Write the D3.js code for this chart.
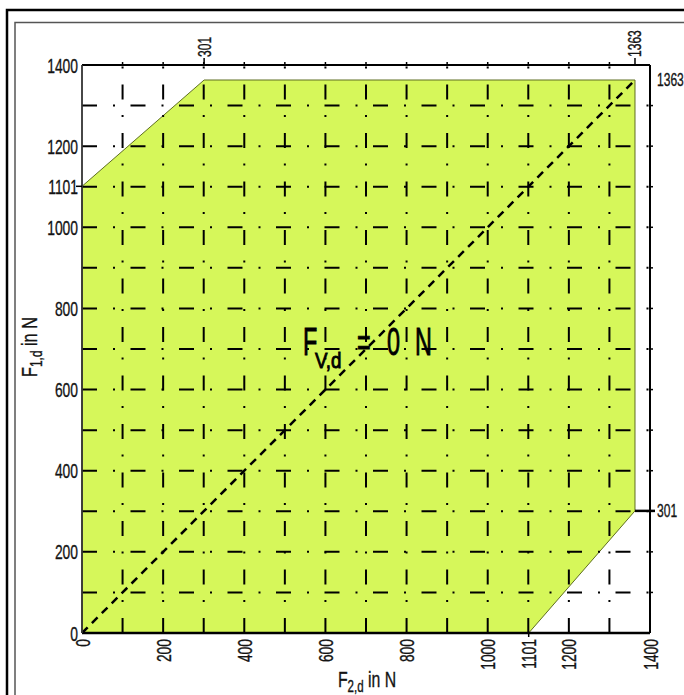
<!DOCTYPE html>
<html><head><meta charset="utf-8">
<script src="https://cdn.jsdelivr.net/npm/d3@7"></script>
<style>
body{margin:0;background:#fff;}
svg{display:block;}
text{font-family:"Liberation Sans",Arial,sans-serif;fill:#141414;stroke:#141414;stroke-width:0.35px;white-space:pre;}
text.big{stroke-width:0.9px;fill:#000;stroke:#000;}
</style>
</head><body>
<svg id="c" width="684" height="695"></svg>
<script>
// ---- data ----
const xTickValues = [0, 200, 400, 600, 800, 1000, 1101, 1200, 1400];
const yTickValues = [0, 200, 400, 600, 800, 1000, 1101, 1200, 1400];
const topTickValues = [301, 1363];
const rightTickValues = [301, 1363];
const minorTickValues = [100, 200, 300, 400, 500, 600, 700, 800, 900, 1000, 1100, 1200, 1300];
const gridValues = [100, 200, 300, 400, 500, 600, 700, 800, 900, 1000, 1100, 1200, 1300];
const regionF2 = [0, 1101, 1363, 1363, 301, 0];
const regionF1 = [0, 0, 301, 1363, 1363, 1101];
const diagonalF2 = [0, 1363];
const diagonalF1 = [0, 1363];
const xTitle = ["F", "2,d", " in N"];
const yTitle = ["F", "1,d", " in N"];
const centerLabel = ["F", "V,d", "=", "0", "N"];

// ---- drawing ----
const svg = d3.select("#c");
const x = d3.scaleLinear().domain([0, 1400]).range([82, 650]);
const y = d3.scaleLinear().domain([0, 1400]).range([633, 65]);

// page frames
svg.append("rect").attr("x", 7).attr("y", 10).attr("width", 700).attr("height", 720)
  .attr("fill", "none").attr("stroke", "#000").attr("stroke-width", 2.5);
svg.append("rect").attr("x", 15).attr("y", 22.5).attr("width", 700).attr("height", 720)
  .attr("fill", "none").attr("stroke", "#555").attr("stroke-width", 1.5);

// filled region
const regionPts = regionF2.map((v, i) => [x(v), y(regionF1[i])]);
svg.append("path").attr("d", d3.line()(regionPts) + "Z")
  .attr("fill", "#d6f75a").attr("stroke", "#5f6e22").attr("stroke-width", 1);

// grid
const dash = "15,16,2,15.5";
svg.append("g").selectAll("line").data(gridValues).join("line")
  .attr("x1", d => x(d)).attr("x2", d => x(d)).attr("y1", y(0)).attr("y2", y(1400))
  .attr("stroke", "#000").attr("stroke-width", 2).attr("stroke-dasharray", dash);
svg.append("g").selectAll("line").data(gridValues).join("line")
  .attr("y1", d => y(d)).attr("y2", d => y(d)).attr("x1", x(0)).attr("x2", x(1400))
  .attr("stroke", "#000").attr("stroke-width", 2).attr("stroke-dasharray", dash);

// diagonal
svg.append("line")
  .attr("x1", x(diagonalF2[0])).attr("y1", y(diagonalF1[0]))
  .attr("x2", x(diagonalF2[1])).attr("y2", y(diagonalF1[1]))
  .attr("stroke", "#000").attr("stroke-width", 2.5).attr("stroke-dasharray", "8,6");

// spines
const spine = svg.append("g").attr("stroke", "#000").attr("fill", "none");
spine.append("line").attr("x1", x(0)).attr("x2", x(1400)).attr("y1", y(0)).attr("y2", y(0)).attr("stroke-width", 2.5);
spine.append("line").attr("x1", x(0)).attr("x2", x(1400)).attr("y1", y(1400)).attr("y2", y(1400)).attr("stroke-width", 2);
spine.append("line").attr("x1", x(0)).attr("x2", x(0)).attr("y1", y(0)).attr("y2", y(1400)).attr("stroke-width", 1.8).attr("stroke", "#333");
spine.append("line").attr("x1", x(1400)).attr("x2", x(1400)).attr("y1", y(0)).attr("y2", y(1400)).attr("stroke-width", 2);

// minor ticks top and right
svg.append("g").selectAll("line").data(minorTickValues).join("line")
  .attr("x1", d => x(d)).attr("x2", d => x(d)).attr("y1", y(1400)).attr("y2", y(1400) - 3)
  .attr("stroke", "#000").attr("stroke-width", 1.5);
svg.append("g").selectAll("line").data(minorTickValues).join("line")
  .attr("y1", d => y(d)).attr("y2", d => y(d)).attr("x1", x(1400)).attr("x2", x(1400) + 3)
  .attr("stroke", "#000").attr("stroke-width", 1.5);

// special ticks
svg.append("line").attr("x1", x(0) - 6).attr("x2", x(0)).attr("y1", y(1101)).attr("y2", y(1101)).attr("stroke", "#000").attr("stroke-width", 1.5);
svg.append("line").attr("x1", x(1101)).attr("x2", x(1101)).attr("y1", y(0)).attr("y2", y(0) + 4).attr("stroke", "#000").attr("stroke-width", 1.5);
svg.append("line").attr("x1", x(301)).attr("x2", x(301)).attr("y1", y(1400)).attr("y2", y(1400) - 7).attr("stroke", "#000").attr("stroke-width", 1.5);
svg.append("line").attr("x1", x(1363)).attr("x2", x(1363)).attr("y1", y(1400)).attr("y2", y(1400) - 7).attr("stroke", "#000").attr("stroke-width", 1.5);
svg.append("line").attr("x1", x(1363)).attr("x2", x(1400) + 5).attr("y1", y(301)).attr("y2", y(301)).attr("stroke", "#000").attr("stroke-width", 2.5);

// text helper
function label(px, py, rot, txt, fs, sx, anchor) {
  return svg.append("text")
    .attr("transform", `translate(${px},${py}) rotate(${rot}) scale(${sx},1)`)
    .attr("text-anchor", anchor).attr("dy", "0.36em")
    .style("font-size", fs + "px").text(txt);
}
yTickValues.forEach(v => label(x(0) - 4, y(v), 0, v, 21, 0.66, "end"));
xTickValues.forEach(v => label(x(v), y(0) + 6, -90, v, 21, 0.66, "end"));
topTickValues.forEach(v => label(x(v), y(1400) - 8, -90, v, 18, 0.67, "start"));
rightTickValues.forEach(v => label(x(1400) + 7, y(v), 0, v, 18, 0.67, "start"));

function title(px, py, rot, parts, fs, sx, subFs, subShift) {
  const t = svg.append("text")
    .attr("transform", `translate(${px},${py}) rotate(${rot}) scale(${sx},1)`)
    .attr("text-anchor", "middle").style("font-size", fs + "px");
  t.append("tspan").text(parts[0]);
  t.append("tspan").style("font-size", subFs + "px").attr("dy", subShift).text(parts[1]);
  t.append("tspan").attr("dy", -subShift).text(parts[2]);
  return t;
}
title(367, 687, 0, xTitle, 22, 0.72, 16, 5);
title(37, 347, -90, yTitle, 22, 0.74, 16, 5);

// centre label, piece by piece
function piece(px, py, txt, fs, sx) {
  svg.append("text").attr("class", "big").attr("transform", `translate(${px},${py}) scale(${sx},1)`)
    .style("font-size", fs + "px").text(txt);
}
piece(303, 355, centerLabel[0], 39, 0.6);
piece(315, 368, centerLabel[1], 22, 0.85);
piece(357, 356, centerLabel[2], 39, 0.6);
piece(387, 355, centerLabel[3], 39, 0.6);
piece(415, 355, centerLabel[4], 39, 0.6);
</script>
</body></html>
